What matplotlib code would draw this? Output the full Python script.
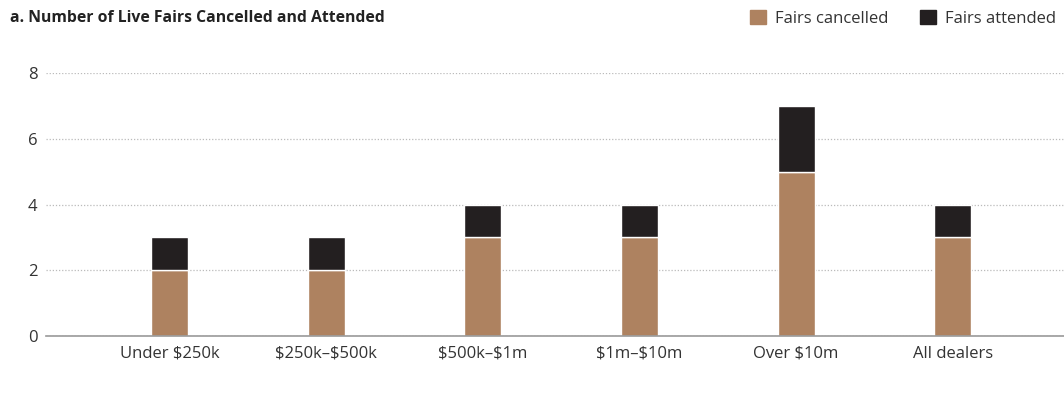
import numpy as np
import matplotlib.pyplot as plt
from matplotlib.patches import Patch

plt.rcParams['font.family'] = ['Open Sans', 'DejaVu Sans']
plt.rcParams['text.parse_math'] = False

categories = ['Under $250k', '$250k–$500k', '$500k–$1m', '$1m–$10m', 'Over $10m', 'All dealers']
cancelled = [2, 2, 3, 3, 5, 3]
attended = [1, 1, 1, 1, 2, 1]

c_cancel = '#ae8260'
c_attend = '#231f20'

fig = plt.figure(figsize=(10.64, 4.03), dpi=100)
ax = fig.add_axes([0.0432, 0.166, 0.9568, 0.653])

x = np.arange(len(categories))
w = 0.236
ax.bar(x, cancelled, w, color=c_cancel, edgecolor='white', linewidth=1, zorder=3)
ax.bar(x, attended, w, bottom=cancelled, color=c_attend, edgecolor='white', linewidth=1, zorder=3)

ax.set_xlim(-0.79, 5.71)
ax.set_ylim(0, 8)
ax.set_yticks([0, 2, 4, 6, 8])
ax.set_xticks(x)
ax.set_xticklabels(categories)
ax.tick_params(axis='both', length=0, labelsize=12, colors='#333333')
ax.tick_params(axis='x', pad=7)
ax.tick_params(axis='y', pad=6)
ax.yaxis.grid(True, linestyle=(0, (1, 1.5)), color='#bbbbbb', linewidth=0.9, zorder=0)
for s in ['top', 'right', 'left']:
    ax.spines[s].set_visible(False)
ax.spines['bottom'].set_color('#999999')
ax.spines['bottom'].set_linewidth(1.2)
ax.spines['bottom'].set_zorder(4)

fig.text(0.0094, 0.955, 'a. Number of Live Fairs Cancelled and Attended',
         fontsize=11.3, fontweight='bold', color='#222222', va='center')

handles = [Patch(color=c_cancel, label='Fairs cancelled'),
           Patch(color=c_attend, label='Fairs attended')]
fig.legend(handles=handles, loc='center right', bbox_to_anchor=(1.0, 0.955), ncol=2,
           frameon=False, fontsize=12, handlelength=1.0, handleheight=1.0,
           handletextpad=0.5, columnspacing=1.9, borderaxespad=0.1, labelcolor='#333333')

fig.savefig('out.png', dpi=100)
